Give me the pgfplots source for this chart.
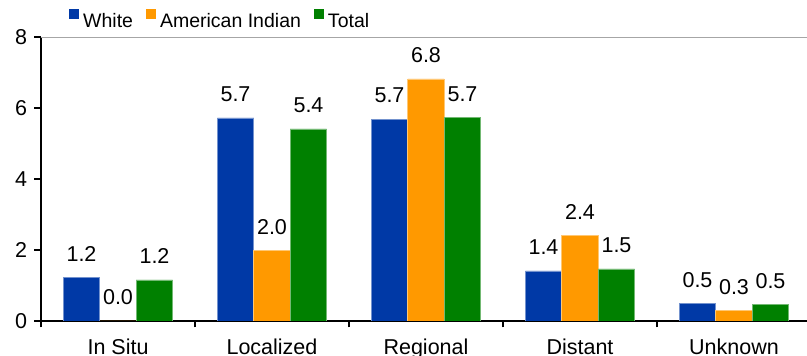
\documentclass[border=0pt]{standalone}
\usepackage{pgfplots}
\pgfplotsset{compat=1.18}
\usepackage{fontspec}
\setmainfont{Liberation Sans}

\definecolor{cwhite}{RGB}{0,57,166}
\definecolor{cindian}{RGB}{255,153,0}
\definecolor{ctotal}{RGB}{0,128,0}

\begin{document}
\begin{tikzpicture}
\useasboundingbox (0,0) rectangle (807pt,356pt);
\clip (0,0) rectangle (807pt,356pt);
\begin{axis}[
  at={(41pt,35pt)}, anchor=south west,
  scale only axis, width=770pt, height=284pt,
  xmin=-0.5, xmax=4.5, ymin=0, ymax=8,
  ytick={0,2,4,6,8},
  % separators between categories
  xtick={-0.5,0.5,1.5,2.5,3.5,4.5},
  xticklabels={},
  % category names
  extra x ticks={0,1,2,3,4},
  extra x tick labels={In Situ,Localized,Regional,Distant,Unknown},
  extra x tick style={major tick length=0pt, tick style={draw=none},
    xticklabel style={yshift=-14pt}},
  axis lines=left,
  axis line style={-, line width=1.8pt},
  tick align=outside,
  major tick length=6.5pt,
  tick style={black, line width=1.2pt},
  /pgf/number format/assume math mode=true,
  tick label style={font=\fontsize{21.5}{21.5}\selectfont},
  yticklabel style={xshift=-4pt},
  ybar=0pt, bar width=0.237,
  nodes near coords={\pgfmathprintnumber[fixed,zerofill,precision=1]{\pgfplotspointmeta}},
  every node near coord/.append style={anchor=center, yshift=23.5pt, text=black,
    font=\fontsize{21.5}{21.5}\selectfont},
  legend columns=-1,
  legend image code/.code={\fill[#1, draw=none] (0pt,2pt) rectangle (10pt,12pt);},
  legend style={draw=none, fill=none, at={(0.0364,1.062)}, anchor=west,
    inner sep=0pt, font=\fontsize{19.5}{19.5}\selectfont,
    nodes={inner sep=0pt},
    /tikz/every odd column/.append style={column sep=4pt},
    /tikz/every even column/.append style={column sep=13pt}},
]
% light frame line along the top of the plot area
\draw[black!35, line width=0.8pt] (rel axis cs:0,1) -- (rel axis cs:1,1);
\addplot[fill=cwhite, draw=cwhite!55!white, line width=0.6pt]
  coordinates {(0,1.23) (1,5.72) (2,5.69) (3,1.41) (4,0.49)};
\addplot[fill=cindian, draw=cindian!55!white, line width=0.6pt]
  coordinates {(0,0) (1,1.98) (2,6.82) (3,2.41) (4,0.29)};
\addplot[fill=ctotal, draw=ctotal!55!white, line width=0.6pt]
  coordinates {(0,1.16) (1,5.41) (2,5.74) (3,1.47) (4,0.46)};
\legend{White,American Indian,Total}
\end{axis}
\end{tikzpicture}
\end{document}
